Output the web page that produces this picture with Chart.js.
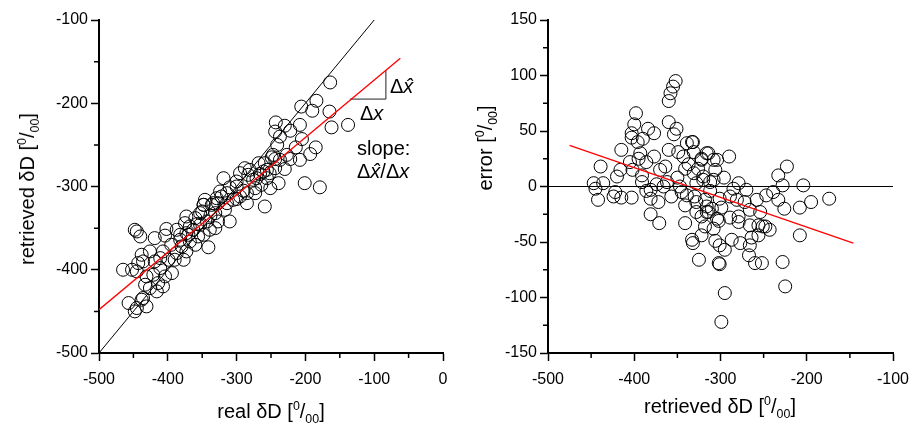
<!DOCTYPE html>
<html lang="en">
<head>
  <meta charset="UTF-8">
  <title>retrieved vs real δD</title>
  <script src="https://cdn.jsdelivr.net/npm/chart.js"></script>
  <style>
    body { margin: 0; background: #fff; }
    #wrap { position: relative; width: 910px; height: 428px; font-family: "Liberation Sans", Arial, sans-serif; color: #000; }
    canvas { position: absolute; top: 0; }
    .t { position: absolute; font-size: 20px; line-height: 20px; white-space: nowrap; }
    .t sup, .t sub { font-size: 62%; line-height: 0; }
    .rot { transform: translate(-50%, -50%) rotate(-90deg); }
    i { font-style: italic; }
  </style>
</head>
<body>
<div id="wrap">
  <canvas id="leftChart" width="455" height="428" style="left:0"></canvas>
  <canvas id="rightChart" width="455" height="428" style="left:455px"></canvas>

  <div class="t" style="left:271px;top:401px;transform:translateX(-50%)">real δD [<sup>0</sup>/<sub>00</sub>]</div>
  <div class="t rot" style="left:27px;top:189px">retrieved δD [<sup>0</sup>/<sub>00</sub>]</div>
  <div class="t" style="left:720px;top:396px;transform:translateX(-50%)">retrieved δD [<sup>0</sup>/<sub>00</sub>]</div>
  <div class="t rot" style="left:485px;top:148px">error [<sup>0</sup>/<sub>00</sub>]</div>

  <div class="t" style="left:390px;top:76px">Δ<i>x̂</i></div>
  <div class="t" style="left:360px;top:103px">Δ<i>x</i></div>
  <div class="t" style="left:357px;top:138px">slope:</div>
  <div class="t" style="left:357px;top:161px">Δ<i>x̂</i>/Δ<i>x</i></div>
</div>

<script>
  // left panel: real vs retrieved
  const realD = [
    -164, -184, -190, -206, -165, -162, -138, -243, -244, -230, -222, -208, -237, -241, -205, -214,
    -185, -193, -208, -227, -222, -244, -237, -259, -249, -268, -230, -244, -252, -261, -281, -288,
    -283, -271, -256, -239, -251, -264, -201, -179, -319, -295, -300, -310, -273, -273, -285, -295,
    -285, -305, -314, -324, -329, -327, -314, -346, -348, -336, -259,
    -445, -448, -440, -419, -402, -404, -387, -382, -373, -375, -360, -353, -348, -334, -331, -317,
    -310, -327, -343, -353, -363, -370, -382, -368, -360, -348, -356, -341, -373, -380, -387, -399,
    -407, -426, -438, -436, -419, -411, -394, -404, -421, -431, -445, -465, -452, -433, -426, -414,
    -407, -416, -457, -438, -431, -445, -448, -436, -331, -339, -368, -373, -390, -377, -411, -443,
    -322, -300, -290, -266, -276, -350, -395, -300, -338, -357, -247, -256
  ];
  const retrievedD = [
    -175, -197, -209, -204, -210, -229, -226, -223, -234, -227, -233, -226, -240, -250, -243, -253,
    -253, -261, -268, -262, -267, -267, -268, -272, -265, -272, -279, -278, -284, -282, -280, -278,
    -286, -290, -290, -296, -302, -298, -296, -301, -290, -284, -294, -301, -302, -308, -308, -312,
    -320, -316, -308, -306, -314, -320, -320, -316, -322, -322, -324,
    -354, -352, -360, -362, -351, -359, -352, -358, -336, -344, -338, -332, -322, -320, -332, -328,
    -342, -342, -342, -346, -352, -358, -364, -366, -370, -358, -360, -373, -378, -372, -380, -388,
    -378, -378, -382, -390, -390, -398, -404, -408, -406, -408, -402, -400, -400, -418, -422, -416,
    -420, -426, -440, -436, -444, -446, -450, -434, -350, -352, -348, -356, -388, -388, -386, -392,
    -312, -300, -305, -285, -292, -330, -370, -315, -335, -345, -262, -280
  ];
  const oneToOneX = [-500, -100];
  const oneToOneY = [-500, -100];
  const fitLeftX = [-500, -62];
  const fitLeftY = [-448, -146];
  const triX = [-135, -83, -83];
  const triY = [-195, -195, -160];

  // right panel: retrieved vs error
  const retrievedR = [
    -352, -355, -358, -360, -398, -400, -403, -403, -396, -390, -384, -377, -360, -351, -354, -339,
    -333, -415, -393, -377, -405, -395, -386, -439, -416, -420, -402, -391, -370, -364, -360, -349,
    -343, -331, -322, -316, -308, -341, -331, -320, -308, -447, -445, -436, -442, -422, -424, -415,
    -403, -391, -381, -381, -372, -366, -357, -347, -339, -341, -328, -316, -322, -310, -381, -371,
    -341, -318, -308, -322, -333,
    -332, -290, -314, -322, -306, -304, -320, -312, -328, -279, -270, -223, -233, -228, -204, -239,
    -247, -258, -233, -226, -208, -195, -174, -330, -318, -301, -289, -281, -272, -266, -254, -316,
    -299, -304, -289, -279, -279, -266, -251, -243, -256, -264, -208, -332, -306, -301, -295, -287,
    -277, -266, -267, -260, -252, -228, -325, -301, -295, -225, -299,
    -328, -314, -302, -256, -248, -302, -350, -362, -374, -386, -345, -337, -326, -312, -296, -285
  ];
  const errorR = [
    95, 90, 84, 77, 66, 56, 48, 44, 40, 43, 52, 48, 58, 52, 47, 39,
    40, 33, 30, 27, 22, 25, 22, 18, 15, 9, 15, 10, 15, 18, 33, 31,
    27, 31, 25, 30, 24, 16, 12, 9, 6, 3, -2, 3, -12, -5, -9, -10,
    -10, 4, -3, -11, -14, 0, -9, 0, -8, -17, -14, -18, -27, -20, -25, -33,
    -33, -36, -38, -44, -48,
    40, 27, 30, 24, 15, 24, 6, 4, 3, 3, -3, 18, 10, 1, 1, -5,
    -8, -12, -12, -20, -19, -14, -11, -9, -12, -11, -9, -12, -14, -21, -23, -23,
    -19, -29, -28, -27, -32, -35, -36, -39, -44, -46, -44, -51, -49, -53, -57, -48,
    -51, -53, -62, -69, -69, -68, -66, -70, -96, -90, -122,
    -23, -23, -31, -35, -36, -69, 8, 4, 2, -4, -5, 20, 16, -4, 8, -2
  ];
  const zeroX = [-500, -100];
  const zeroY = [0, 0];
  const fitRightX = [-475, -146];
  const fitRightY = [37, -51];

  const pts = (xs, ys) => xs.map((x, i) => ({ x: x, y: ys[i] }));
  const font = { family: "'Liberation Sans', Arial, sans-serif", size: 16 };

  // short minor tick marks between the labelled ones
  function minorTicks(xMinor, yMinor) {
    return {
      id: 'minorTicks',
      afterDraw(chart) {
        const ctx = chart.ctx;
        const area = chart.chartArea;
        const sx = chart.scales.x, sy = chart.scales.y;
        ctx.save();
        ctx.strokeStyle = '#000';
        ctx.lineWidth = 1.5;
        ctx.beginPath();
        for (let v = sx.min + xMinor; v < sx.max; v += 2 * xMinor) {
          const p = sx.getPixelForValue(v);
          ctx.moveTo(p, area.bottom);
          ctx.lineTo(p, area.bottom + 5);
        }
        for (let v = sy.min + yMinor; v < sy.max; v += 2 * yMinor) {
          const p = sy.getPixelForValue(v);
          ctx.moveTo(area.left, p);
          ctx.lineTo(area.left - 5, p);
        }
        ctx.stroke();
        ctx.restore();
      }
    };
  }

  const tickGrid = {
    display: true, drawOnChartArea: false, drawTicks: true,
    tickLength: 8, tickWidth: 1.5, tickColor: '#000', color: '#000'
  };

  function axes(xmin, xmax, ymin, ymax, ystep, yWidth) {
    return {
      x: {
        type: 'linear', min: xmin, max: xmax,
        grid: tickGrid,
        border: { display: true, color: '#000', width: 2 },
        ticks: { stepSize: 100, font: font, color: '#000', padding: 9, maxRotation: 0 },
        afterFit: s => { s.height = 75; s.paddingLeft = 0; s.paddingRight = 0; }
      },
      y: {
        type: 'linear', min: ymin, max: ymax,
        grid: tickGrid,
        border: { display: true, color: '#000', width: 2 },
        ticks: { stepSize: ystep, font: font, color: '#000', padding: 3 },
        afterFit: s => { s.width = yWidth; s.paddingTop = 0; s.paddingBottom = 0; }
      }
    };
  }

  const circleStyle = {
    type: 'scatter',
    pointRadius: 6.5,
    pointHoverRadius: 6.5,
    pointBorderWidth: 1,
    borderColor: '#000',
    backgroundColor: 'rgba(0,0,0,0)',
    order: 2
  };
  const lineStyle = (color, w) => ({
    type: 'line', borderColor: color, borderWidth: w, pointRadius: 0, fill: false, order: 1
  });

  new Chart(document.getElementById('leftChart'), {
    type: 'scatter',
    data: {
      datasets: [
        Object.assign({ data: pts(realD, retrievedD) }, circleStyle),
        Object.assign({ data: pts(oneToOneX, oneToOneY) }, lineStyle('#000', 1)),
        Object.assign({ data: pts(fitLeftX, fitLeftY) }, lineStyle('#ff0000', 1.3)),
        Object.assign({ data: pts(triX, triY) }, lineStyle('#222', 1))
      ]
    },
    options: {
      responsive: false,
      animation: false,
      layout: { padding: { top: 20, right: 12, left: 0, bottom: 0 } },
      plugins: { legend: { display: false }, tooltip: { enabled: false } },
      scales: axes(-500, 0, -500, -100, 100, 99)
    },
    plugins: [minorTicks(50, 50)]
  });

  new Chart(document.getElementById('rightChart'), {
    type: 'scatter',
    data: {
      datasets: [
        Object.assign({ data: pts(retrievedR, errorR) }, circleStyle),
        Object.assign({ data: pts(zeroX, zeroY) }, lineStyle('#000', 1)),
        Object.assign({ data: pts(fitRightX, fitRightY) }, lineStyle('#ff0000', 1.3))
      ]
    },
    options: {
      responsive: false,
      animation: false,
      layout: { padding: { top: 20, right: 17, left: 0, bottom: 0 } },
      plugins: { legend: { display: false }, tooltip: { enabled: false } },
      scales: axes(-500, -100, -150, 150, 50, 93)
    },
    plugins: [minorTicks(50, 25)]
  });
</script>
</body>
</html>
